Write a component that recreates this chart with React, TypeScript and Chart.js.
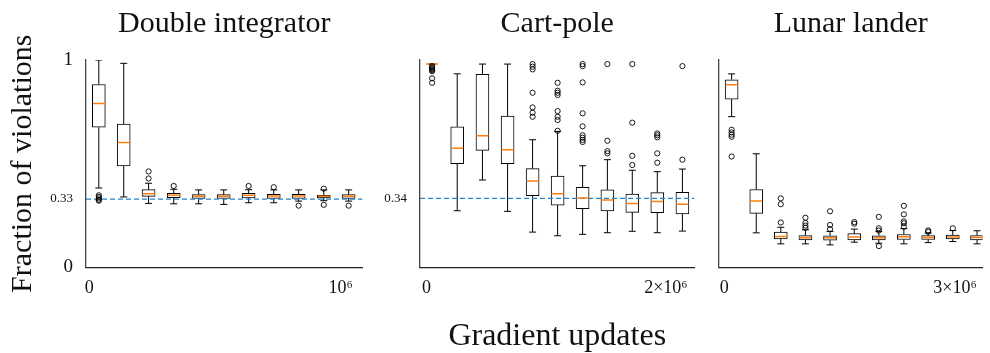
import React, { useEffect, useRef } from 'react';
import { Chart, registerables } from 'chart.js';

Chart.register(...registerables);

const FONT = "'Liberation Serif', 'Times New Roman', serif";
const TEXT = '#111';

// ---------- Double integrator ----------
const diTitle = 'Double integrator';
const diPositions = [38000, 137000, 236000, 336000, 435000, 535000, 634000, 734000, 833000, 933000, 1032000];
const diLow = [0.383, 0.340, 0.309, 0.307, 0.307, 0.304, 0.312, 0.312, 0.320, 0.322, 0.320];
const diQ1 = [0.676, 0.490, 0.343, 0.336, 0.333, 0.333, 0.335, 0.333, 0.333, 0.335, 0.333];
const diMedian = [0.790, 0.602, 0.356, 0.348, 0.343, 0.343, 0.348, 0.345, 0.345, 0.343, 0.343];
const diQ3 = [0.882, 0.691, 0.375, 0.358, 0.351, 0.351, 0.358, 0.353, 0.353, 0.348, 0.351];
const diHigh = [1.0, 0.984, 0.406, 0.377, 0.374, 0.374, 0.375, 0.374, 0.374, 0.374, 0.374];
const diOutliers = [
  [0.348, 0.340, 0.333, 0.326, 0.322],
  [],
  [0.463, 0.429],
  [0.393],
  [],
  [],
  [0.393],
  [0.387],
  [0.298],
  [0.380, 0.302],
  [0.298],
];
const diReference = 0.33;
const diYTicks = [0, 0.33, 1];
const diYTickLabels = ['0', '0.33', '1'];
const diXTicks = [0, 1000000];
const diXTickLabels = ['0', '10⁶'];

// ---------- Cart-pole ----------
const cpTitle = 'Cart-pole';
const cpPositions = [46000, 256000, 467000, 677000, 886000, 1095000, 1304000, 1511000, 1719000, 1928000, 2138000];
const cpLow = [1.0, 0.279, 0.430, 0.276, 0.174, 0.156, 0.163, 0.171, 0.178, 0.171, 0.179];
const cpQ1 = [1.0, 0.510, 0.576, 0.510, 0.353, 0.307, 0.289, 0.278, 0.271, 0.269, 0.263];
const cpMedian = [1.0, 0.586, 0.648, 0.579, 0.425, 0.363, 0.342, 0.332, 0.314, 0.325, 0.311];
const cpQ3 = [1.0, 0.692, 0.949, 0.744, 0.486, 0.450, 0.394, 0.382, 0.361, 0.368, 0.370];
const cpHigh = [1.0, 0.952, 1.0, 1.0, 0.628, 0.669, 0.500, 0.530, 0.478, 0.471, 0.484];
const cpOutliers = [
  [0.99, 0.985, 0.98, 0.975, 0.97, 0.965, 0.93, 0.908],
  [],
  [],
  [],
  [1.0, 0.987, 0.974, 0.859, 0.787, 0.761, 0.741],
  [0.908, 0.869, 0.859, 0.848, 0.769, 0.741, 0.725, 0.672],
  [1.0, 0.99, 0.910, 0.758, 0.694, 0.650, 0.638, 0.627, 0.617],
  [1.0, 0.623, 0.572, 0.561],
  [1.0, 0.712, 0.549, 0.504],
  [0.659, 0.650, 0.640, 0.561, 0.515],
  [0.990, 0.530],
];
const cpReference = 0.34;
const cpYTicks = [0.34];
const cpYTickLabels = ['0.34'];
const cpXTicks = [0, 2000000];
const cpXTickLabels = ['0', '2×10⁶'];
const xAxisLabel = 'Gradient updates';
const yAxisLabel = 'Fraction of violations';

// ---------- Lunar lander ----------
const llTitle = 'Lunar lander';
const llPositions = [97000, 417000, 736000, 1056000, 1376000, 1691000, 2010000, 2335000, 2651000, 2971000, 3286000];
const llLow = [0.727, 0.167, 0.114, 0.114, 0.109, 0.122, 0.117, 0.114, 0.120, 0.125, 0.114];
const llQ1 = [0.811, 0.261, 0.138, 0.133, 0.132, 0.133, 0.133, 0.135, 0.135, 0.138, 0.133];
const llMedian = [0.881, 0.321, 0.150, 0.143, 0.143, 0.147, 0.143, 0.148, 0.145, 0.147, 0.145];
const llQ3 = [0.905, 0.376, 0.171, 0.154, 0.153, 0.163, 0.153, 0.159, 0.154, 0.156, 0.154];
const llHigh = [0.933, 0.548, 0.194, 0.182, 0.174, 0.185, 0.174, 0.187, 0.166, 0.178, 0.177];
const llOutliers = [
  [0.664, 0.651, 0.640, 0.630, 0.535],
  [],
  [0.333, 0.305, 0.217],
  [0.240, 0.215, 0.202, 0.191],
  [0.271, 0.205, 0.185],
  [0.219, 0.211],
  [0.244, 0.189, 0.178, 0.103],
  [0.297, 0.256, 0.222, 0.213, 0.197],
  [0.179, 0.172],
  [0.189],
  [],
];
const llXTicks = [0, 3000000];
const llXTickLabels = ['0', '3×10⁶'];

type Spec = {
  title: string;
  positions: number[];
  low: number[];
  q1: number[];
  median: number[];
  q3: number[];
  high: number[];
  outliers: number[][];
  reference: number | null;
  yTicks: number[];
  yTickLabels: string[];
  xTicks: number[];
  xTickLabels: string[];
  xMin: number;
  xMax: number;
  yMax: number;
  yTitle: string | null;
  xTitle: string | null;
  left: number;
  width: number;
  yAxisWidth: number;
  padRight: number;
};

const HEIGHT = 353;
const PLOT_BOTTOM = 267.5;

function buildConfig(s: Spec): any {
  const boxes = s.positions.map((x, i) => ({ x, y: [s.q1[i], s.q3[i]] }));
  const whiskers: any[] = [];
  s.positions.forEach((x, i) => {
    whiskers.push({ x, y: s.low[i] }, { x, y: s.q1[i] }, { x, y: null });
    whiskers.push({ x, y: s.q3[i] }, { x, y: s.high[i] }, { x, y: null });
  });
  const caps: any[] = [];
  s.positions.forEach((x, i) => {
    caps.push({ x, y: s.low[i] }, { x, y: s.high[i] });
  });
  const medians = s.positions.map((x, i) => ({ x, y: s.median[i] }));
  const fliers: any[] = [];
  s.positions.forEach((x, i) => {
    s.outliers[i].forEach((v) => fliers.push({ x, y: v }));
  });

  const datasets: any[] = [
    {
      type: 'line',
      data: fliers,
      showLine: false,
      pointStyle: 'circle',
      pointRadius: 2.6,
      pointBorderColor: '#000',
      pointBackgroundColor: 'rgba(255,255,255,0)',
      pointBorderWidth: 0.9,
      order: 0,
    },
    {
      type: 'line',
      data: medians,
      showLine: false,
      pointStyle: 'line',
      pointRadius: 6,
      pointBorderColor: '#ff7f0e',
      pointBorderWidth: 1.5,
      order: 1,
    },
    {
      type: 'line',
      data: caps,
      showLine: false,
      pointStyle: 'line',
      pointRadius: 3.5,
      pointBorderColor: '#000',
      pointBorderWidth: 1,
      order: 3,
    },
    {
      type: 'bar',
      data: boxes,
      backgroundColor: '#fff',
      borderColor: '#000',
      borderWidth: 1,
      borderSkipped: false,
      barThickness: 13,
      order: 4,
    },
    {
      type: 'line',
      data: whiskers,
      borderColor: '#000',
      borderWidth: 1,
      pointRadius: 0,
      spanGaps: false,
      order: 5,
    },
  ];
  if (s.reference !== null) {
    datasets.push({
      type: 'line',
      data: [
        { x: s.xMin, y: s.reference },
        { x: s.xMax, y: s.reference },
      ],
      borderColor: '#2b83c6',
      borderDash: [5, 3],
      borderWidth: 1.2,
      pointRadius: 0,
      order: 2,
    });
  }

  return {
    type: 'bar',
    data: { datasets },
    options: {
      animation: false,
      responsive: false,
      devicePixelRatio: 1,
      events: [],
      layout: { padding: { left: 0, right: s.padRight, top: 0, bottom: 0 } },
      plugins: {
        legend: { display: false },
        tooltip: { enabled: false },
        title: {
          display: true,
          text: s.title,
          fullSize: false,
          color: TEXT,
          font: { family: FONT, size: 30, weight: 'normal' },
          padding: { top: 6, bottom: 18 },
        },
      },
      scales: {
        x: {
          type: 'linear',
          min: s.xMin,
          max: s.xMax,
          offset: false,
          grid: { display: false, drawTicks: false },
          border: { display: true, color: '#222', width: 1.3 },
          afterBuildTicks: (scale: any) => {
            scale.ticks = s.xTicks.map((v) => ({ value: v }));
          },
          afterFit: (scale: any) => {
            scale.height = HEIGHT - PLOT_BOTTOM;
          },
          ticks: {
            autoSkip: false,
            maxRotation: 0,
            padding: 10,
            color: TEXT,
            font: { family: FONT, size: 18 },
            callback: (_v: any, i: number) => s.xTickLabels[i],
          },
          title: {
            display: s.xTitle !== null,
            text: s.xTitle || '',
            color: TEXT,
            font: { family: FONT, size: 32, lineHeight: 1.0 },
            padding: { top: 0, bottom: 0 },
          },
        },
        y: {
          type: 'linear',
          min: 0,
          max: s.yMax,
          grid: { display: false, drawTicks: false },
          border: { display: true, color: '#444', width: 1.3 },
          afterBuildTicks: (scale: any) => {
            scale.ticks = s.yTicks.map((v) => ({ value: v }));
          },
          afterFit: (scale: any) => {
            scale.width = s.yAxisWidth;
          },
          ticks: {
            display: s.yTicks.length > 0,
            autoSkip: false,
            padding: 13,
            color: TEXT,
            font: (ctx: any) => {
              const lbl = ctx && ctx.tick ? ctx.tick.label : '';
              const small = typeof lbl === 'string' && lbl.indexOf('.') >= 0;
              return { family: FONT, size: small ? 13 : 19 };
            },
            callback: (_v: any, i: number) => s.yTickLabels[i],
          },
          title: {
            display: s.yTitle !== null,
            text: s.yTitle || '',
            color: TEXT,
            font: { family: FONT, size: 30 },
            padding: { top: 5, bottom: 0 },
          },
        },
      },
    },
  };
}

function Panel({ spec }: { spec: Spec }) {
  const ref = useRef<HTMLCanvasElement | null>(null);
  useEffect(() => {
    if (!ref.current) return;
    const chart = new Chart(ref.current, buildConfig(spec));
    return () => chart.destroy();
  }, [spec]);
  return (
    <canvas
      ref={ref}
      width={spec.width}
      height={HEIGHT}
      style={{ position: 'absolute', left: spec.left, top: 0, width: spec.width, height: HEIGHT }}
    />
  );
}

const panels: Spec[] = [
  {
    title: diTitle,
    positions: diPositions,
    low: diLow,
    q1: diQ1,
    median: diMedian,
    q3: diQ3,
    high: diHigh,
    outliers: diOutliers,
    reference: diReference,
    yTicks: diYTicks,
    yTickLabels: diYTickLabels,
    xTicks: diXTicks,
    xTickLabels: diXTickLabels,
    xMin: -13000,
    xMax: 1087000,
    yMax: 1.0,
    yTitle: yAxisLabel,
    xTitle: null,
    left: 0,
    width: 370,
    yAxisWidth: 86,
    padRight: 5,
  },
  {
    title: cpTitle,
    positions: cpPositions,
    low: cpLow,
    q1: cpQ1,
    median: cpMedian,
    q3: cpQ3,
    high: cpHigh,
    outliers: cpOutliers,
    reference: cpReference,
    yTicks: cpYTicks,
    yTickLabels: cpYTickLabels,
    xTicks: cpXTicks,
    xTickLabels: cpXTickLabels,
    xMin: -55000,
    xMax: 2239000,
    yMax: 1.02,
    yTitle: null,
    xTitle: xAxisLabel,
    left: 372,
    width: 330,
    yAxisWidth: 48,
    padRight: 4,
  },
  {
    title: llTitle,
    positions: llPositions,
    low: llLow,
    q1: llQ1,
    median: llMedian,
    q3: llQ3,
    high: llHigh,
    outliers: llOutliers,
    reference: null,
    yTicks: [],
    yTickLabels: [],
    xTicks: llXTicks,
    xTickLabels: llXTickLabels,
    xMin: -67000,
    xMax: 3357000,
    yMax: 1.0,
    yTitle: null,
    xTitle: null,
    left: 702,
    width: 288,
    yAxisWidth: 17,
    padRight: 0,
  },
];

export default function App() {
  return (
    <div style={{ position: 'fixed', left: 0, top: 0, width: 990, height: HEIGHT, background: '#fff', overflow: 'hidden' }}>
      {panels.map((p, i) => (
        <Panel key={i} spec={p} />
      ))}
    </div>
  );
}
